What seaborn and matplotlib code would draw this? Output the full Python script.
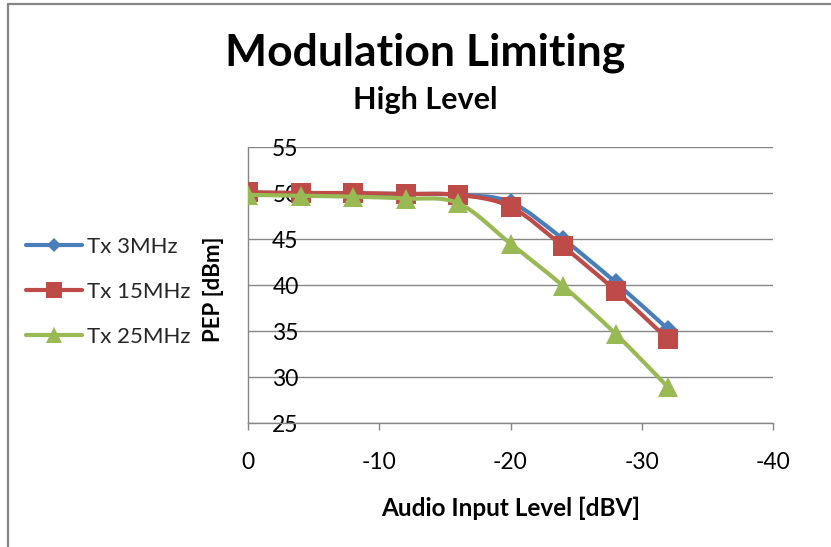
import matplotlib
matplotlib.use("Agg")
import matplotlib.pyplot as plt
from matplotlib.lines import Line2D
from matplotlib.path import Path
from matplotlib.patches import PathPatch
import seaborn as sns
import pandas as pd

# Audio input level (dBV) and peak envelope power (dBm) per transmit frequency
audio_level = [0, -4, -8, -12, -16, -20, -24, -28, -32]
pep_3mhz = [50.0, 50.0, 49.9, 49.9, 49.8, 49.0, 45.0, 40.3, 35.2]
pep_15mhz = [50.1, 50.0, 50.0, 49.9, 49.8, 48.5, 44.2, 39.4, 34.1]
pep_25mhz = [49.8, 49.7, 49.6, 49.4, 48.9, 44.5, 39.9, 34.7, 28.9]

series_names = ["Tx 3MHz", "Tx 15MHz", "Tx 25MHz"]
x_ticks = [0, -10, -20, -30, -40]
y_ticks = [25, 30, 35, 40, 45, 50, 55]

sns.set_theme(style="white")
plt.rcParams["font.family"] = ["Lato", "DejaVu Sans"]

df = pd.DataFrame({
    "level": audio_level * 3,
    "pep": pep_3mhz + pep_15mhz + pep_25mhz,
    "series": [s for s in series_names for _ in audio_level],
})

colors = {"Tx 3MHz": "#4A7EBB", "Tx 15MHz": "#BE4B48", "Tx 25MHz": "#98B954"}
markers = {"Tx 3MHz": "D", "Tx 15MHz": "s", "Tx 25MHz": "^"}
msizes = {"Tx 3MHz": 9, "Tx 15MHz": 14.5, "Tx 25MHz": 14.5}
LW = 3.0


def smooth_path(xs, ys):
    """Cubic Bezier path through the points (Catmull-Rom style tangents)."""
    pts = list(zip(xs, ys))
    n = len(pts)
    verts = [pts[0]]
    codes = [Path.MOVETO]
    for i in range(n - 1):
        p0 = pts[i - 1] if i > 0 else pts[i]
        p1 = pts[i]
        p2 = pts[i + 1]
        p3 = pts[i + 2] if i + 2 < n else pts[i + 1]
        c1 = (p1[0] + (p2[0] - p0[0]) / 6, p1[1] + (p2[1] - p0[1]) / 6)
        c2 = (p2[0] - (p3[0] - p1[0]) / 6, p2[1] - (p3[1] - p1[1]) / 6)
        verts += [c1, c2, p2]
        codes += [Path.CURVE4] * 3
    return Path(verts, codes)


W, H = 831, 547
fig = plt.figure(figsize=(W / 100, H / 100), dpi=100)
ax = fig.add_axes([248 / W, 1 - 423 / H, (773 - 248) / W, (423 - 147) / H])

handles = []
for k, name in enumerate(series_names):
    sub = df[df["series"] == name]
    ax.add_patch(PathPatch(smooth_path(sub["level"].tolist(), sub["pep"].tolist()),
                           facecolor="none", edgecolor=colors[name], linewidth=LW,
                           capstyle="round", joinstyle="round", zorder=2 + 2 * k))
    sns.lineplot(data=sub, x="level", y="pep", ax=ax, color=colors[name],
                 marker=markers[name], markersize=msizes[name],
                 markeredgewidth=0, linestyle="", sort=False, legend=False,
                 zorder=3 + 2 * k)
    handles.append(Line2D([], [], color=colors[name], linewidth=LW,
                          marker=markers[name], markersize=msizes[name] * 0.8,
                          markeredgewidth=0))

ax.set_xlim(0, -40)
ax.set_ylim(25, 55)
ax.set_xticks(x_ticks)
ax.set_xticklabels([str(v) for v in x_ticks])
ax.set_yticks(y_ticks)
ax.set_yticklabels([str(v) for v in y_ticks])

grid_c = "#868686"
ax.yaxis.grid(True, color=grid_c, linewidth=1.0)
ax.xaxis.grid(False)
ax.set_axisbelow(True)
for side in ["top", "right"]:
    ax.spines[side].set_visible(False)
for side in ["left", "bottom"]:
    ax.spines[side].set_color(grid_c)
    ax.spines[side].set_linewidth(1.0)

ax.tick_params(axis="x", which="both", bottom=True, direction="out", length=5,
               width=1.0, color=grid_c, pad=16, labelsize=16.5, labelcolor="#000000")
ax.tick_params(axis="y", which="both", left=False, length=0, pad=-36.5,
               labelsize=16.5, labelcolor="#000000")

ax.set_xlabel("Audio Input Level [dBV]", fontsize=17.5, fontweight="bold", color="black")
ax.xaxis.set_label_coords(0.5, -(508 - 423) / 276, transform=ax.transAxes)
ax.xaxis.label.set_va("center")
ax.set_ylabel("PEP [dBm]", fontsize=16, fontweight="bold", color="black")
ax.yaxis.label.set_va("center")
ax.yaxis.set_label_coords((213 - 248) / 525, 0.485)

fig.text(425 / W, 1 - 53 / H, "Modulation Limiting", ha="center", va="center",
         fontsize=32, fontweight="bold", color="black")
fig.text(425 / W, 1 - 100 / H, "High Level", ha="center", va="center",
         fontsize=22, fontweight="bold", color="black")

fig.legend(handles, series_names, loc="center left",
           bbox_to_anchor=(26 / W, 1 - 292 / H), frameon=False,
           fontsize=16, handlelength=2.5, handletextpad=0.25,
           labelspacing=1.12, borderpad=0, borderaxespad=0)

# chart frame edges
fig.add_artist(Line2D([8 / W, 8 / W], [0, 1 - 4 / H], transform=fig.transFigure,
                      color=grid_c, linewidth=1.6))
fig.add_artist(Line2D([8 / W, 1], [1 - 4 / H, 1 - 4 / H], transform=fig.transFigure,
                      color=grid_c, linewidth=1.6))

fig.savefig("out.png", dpi=100, facecolor="white")
